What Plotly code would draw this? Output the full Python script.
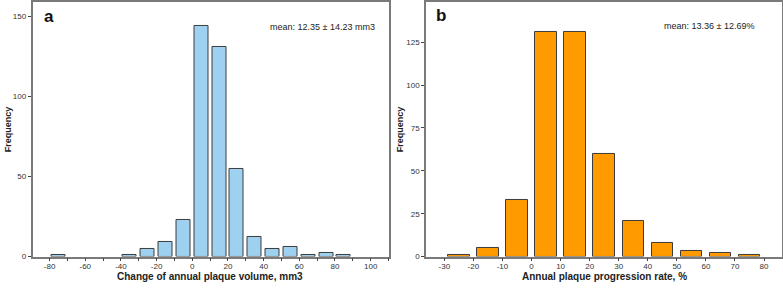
import plotly.graph_objects as go

W, H = 783, 288

# Panel a data
a_bins = [-75, -35, -25, -15, -5, 5, 15, 25, 35, 45, 55, 65, 75, 85]
a_freq = [1, 1, 5, 9, 23, 144, 131, 55, 12, 5, 6, 1, 2, 1]
a_ticks = [-80, -60, -40, -20, 0, 20, 40, 60, 80, 100]
a_yticks = [0, 50, 100, 150]

# Panel b data
b_bins = [-25, -15, -5, 5, 15, 25, 35, 45, 55, 65, 75]
b_freq = [1, 5, 33, 131, 131, 60, 21, 8, 3, 2, 1]
b_ticks = [-30, -20, -10, 0, 10, 20, 30, 40, 50, 60, 70, 80]
b_yticks = [0, 25, 50, 75, 100, 125]

FONT = "Arial, Liberation Sans, sans-serif"

def px_x(x):
    return x / W

def px_y(y):
    return 1 - y / H

fig = go.Figure()
fig.add_trace(go.Bar(x=a_bins, y=a_freq, width=7.8, marker=dict(color="#9ED1F0", line=dict(color="#3c3c3c", width=1)),
                     xaxis="x", yaxis="y", showlegend=False, hoverinfo="skip"))
fig.add_trace(go.Bar(x=b_bins, y=b_freq, width=7.4, marker=dict(color="#FF9A00", line=dict(color="#3c3c3c", width=1)),
                     xaxis="x2", yaxis="y2", showlegend=False, hoverinfo="skip"))

ydom = [px_y(261), px_y(1)]
axcommon = dict(showline=True, linecolor="#7a7a7a", linewidth=1.5, mirror=True, showgrid=False, zeroline=False,
                ticks="outside", ticklen=3, tickcolor="#444", tickfont=dict(family=FONT, size=8, color="#333"))

fig.update_layout(
    width=W, height=H, margin=dict(l=0, r=0, t=0, b=0),
    paper_bgcolor="white", plot_bgcolor="white",
    xaxis=dict(domain=[px_x(32.5), px_x(388.5)], range=[-89.6, 110], tickvals=a_ticks,
               ticktext=[str(t) for t in a_ticks], anchor="y", ticklabelstandoff=-2,
               minor=dict(dtick=10, tick0=0, ticks="outside", ticklen=3, tickcolor="#444"), **axcommon),
    yaxis=dict(domain=ydom, range=[0, 159], tickvals=a_yticks, anchor="x", **axcommon),
    xaxis2=dict(domain=[px_x(426), px_x(781.5)], range=[-36.3, 86], tickvals=b_ticks,
                ticktext=[str(t) for t in b_ticks], anchor="y2", ticklabelstandoff=-2, **axcommon),
    yaxis2=dict(domain=ydom, range=[0, 148.5], tickvals=b_yticks, anchor="x2", **axcommon),
    bargap=0,
)

ann = [
    dict(text="<b>a</b>", x=px_x(42), y=px_y(16), xanchor="left", yanchor="middle", font=dict(size=17, color="#111")),
    dict(text="<b>b</b>", x=px_x(434), y=px_y(15), xanchor="left", yanchor="middle", font=dict(size=17, color="#111")),
    dict(text="mean: 12.35 ± 14.23 mm3", x=px_x(377), y=px_y(27), xanchor="right", yanchor="middle", font=dict(size=9, color="#222")),
    dict(text="mean: 13.36 ± 12.69%", x=px_x(757), y=px_y(26), xanchor="right", yanchor="middle", font=dict(size=9, color="#222")),
    dict(text="<b>Change of annual plaque volume, mm3</b>", x=px_x(210), y=px_y(281), xanchor="center", yanchor="middle", font=dict(size=10, color="#222")),
    dict(text="<b>Annual plaque progression rate, %</b>", x=px_x(604), y=px_y(281), xanchor="center", yanchor="middle", font=dict(size=10, color="#222")),
    dict(text="<b>Frequency</b>", x=px_x(8), y=px_y(131), xanchor="center", yanchor="middle", textangle=-90, font=dict(size=9, color="#222")),
    dict(text="<b>Frequency</b>", x=px_x(400), y=px_y(131), xanchor="center", yanchor="middle", textangle=-90, font=dict(size=9, color="#222")),
]
for a in ann:
    a.update(xref="paper", yref="paper", showarrow=False)
    a["font"] = dict(family=FONT, **a["font"])
fig.update_layout(annotations=ann)

fig.write_html("out.html", config={"displayModeBar": False},
               post_script="document.body.style.margin='0';document.body.style.overflow='hidden';")
